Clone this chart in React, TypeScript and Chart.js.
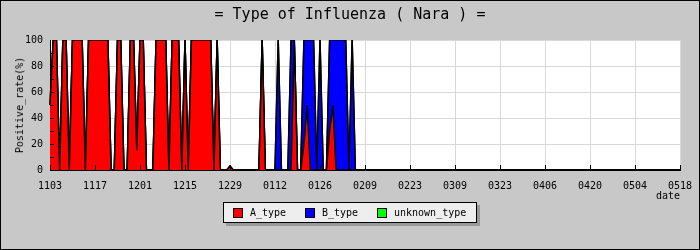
import React, { useEffect, useRef } from 'react';
import { Chart, registerables } from 'chart.js';
Chart.register(...registerables);

const FONT = '"DejaVu Sans Mono", "Liberation Mono", monospace';

const days: string[] = `
1103 1104 1105 1106 1107 1108 1109 1110 1111 1112 1113 1114 1115 1116 1117 1118 1119 1120 1121 1122 1123 1124 1125 1126 1127 1128 1129 1130
1201 1202 1203 1204 1205 1206 1207 1208 1209 1210 1211 1212 1213 1214 1215 1216 1217 1218 1219 1220 1221 1222 1223 1224 1225 1226 1227 1228 1229 1230 1231
0101 0102 0103 0104 0105 0106 0107 0108 0109 0110 0111 0112 0113 0114 0115 0116 0117 0118 0119 0120 0121 0122 0123 0124 0125 0126 0127 0128 0129 0130 0131
0201 0202 0203 0204 0205 0206 0207 0208 0209 0210 0211 0212 0213 0214 0215 0216 0217 0218 0219 0220 0221 0222 0223 0224 0225 0226 0227 0228
0301 0302 0303 0304 0305 0306 0307 0308 0309 0310 0311 0312 0313 0314 0315 0316 0317 0318 0319 0320 0321 0322 0323 0324 0325 0326 0327 0328 0329 0330 0331
0401 0402 0403 0404 0405 0406 0407 0408 0409 0410 0411 0412 0413 0414 0415 0416 0417 0418 0419 0420 0421 0422 0423 0424 0425 0426 0427 0428 0429 0430
0501 0502 0503 0504 0505 0506 0507 0508 0509 0510 0511 0512 0513 0514 0515 0516 0517 0518
`.trim().split(/\s+/);

const tickLabels = ['1103', '1117', '1201', '1215', '1229', '0112', '0126', '0209', '0223', '0309', '0323', '0406', '0420', '0504', '0518'];

const aType = [
  50, 100, 100, 0, 100, 100, 0, 100, 100, 100, 100, 0, 100, 100,
  100, 100, 100, 100, 100, 0, 0, 100, 100, 0, 0, 100, 100, 15,
  100, 100, 0, 0, 0, 100, 100, 100, 100, 0, 100, 100, 100, 0,
  100, 0, 100, 100, 100, 100, 100, 100, 100, 0, 100, 0, 0, 0,
  3, 0, 0, 0, 0, 0, 0, 0, 0, 0, 100, 0, 0, 0,
  0, 0, 0, 0, 0, 0, 100, 0, 0, 20, 50, 0, 0, 0,
  0, 0, 0, 30, 50, 0, 0, 0, 0, 0, 0, 0, 0, 0,
  0, 0, 0, 0, 0, 0, 0, 0, 0, 0, 0, 0, 0, 0,
  0, 0, 0, 0, 0, 0, 0, 0, 0, 0, 0, 0, 0, 0,
  0, 0, 0, 0, 0, 0, 0, 0, 0, 0, 0, 0, 0, 0,
  0, 0, 0, 0, 0, 0, 0, 0, 0, 0, 0, 0, 0, 0,
  0, 0, 0, 0, 0, 0, 0, 0, 0, 0, 0, 0, 0, 0,
  0, 0, 0, 0, 0, 0, 0, 0, 0, 0, 0, 0, 0, 0,
  0, 0, 0, 0, 0, 0, 0, 0, 0, 0, 0, 0, 0, 0,
  0,
];

const bType = [
  0, 0, 0, 0, 0, 0, 0, 0, 0, 0, 0, 0, 0, 0,
  0, 0, 0, 0, 0, 0, 0, 0, 0, 0, 0, 0, 0, 0,
  0, 0, 0, 0, 0, 0, 0, 0, 0, 0, 0, 0, 0, 0,
  0, 0, 0, 0, 0, 0, 0, 0, 0, 0, 0, 0, 0, 0,
  0, 0, 0, 0, 0, 0, 0, 0, 0, 0, 0, 0, 0, 0,
  0, 100, 0, 0, 0, 100, 0, 0, 0, 80, 50, 100, 100, 0,
  100, 0, 0, 70, 50, 100, 100, 100, 100, 0, 100, 0, 0, 0,
  0, 0, 0, 0, 0, 0, 0, 0, 0, 0, 0, 0, 0, 0,
  0, 0, 0, 0, 0, 0, 0, 0, 0, 0, 0, 0, 0, 0,
  0, 0, 0, 0, 0, 0, 0, 0, 0, 0, 0, 0, 0, 0,
  0, 0, 0, 0, 0, 0, 0, 0, 0, 0, 0, 0, 0, 0,
  0, 0, 0, 0, 0, 0, 0, 0, 0, 0, 0, 0, 0, 0,
  0, 0, 0, 0, 0, 0, 0, 0, 0, 0, 0, 0, 0, 0,
  0, 0, 0, 0, 0, 0, 0, 0, 0, 0, 0, 0, 0, 0,
  0,
];

const unknownType = [
  0, 0, 0, 0, 0, 0, 0, 0, 0, 0, 0, 0, 0, 0,
  0, 0, 0, 0, 0, 0, 0, 0, 0, 0, 0, 0, 0, 0,
  0, 0, 0, 0, 0, 0, 0, 0, 0, 0, 0, 0, 0, 0,
  0, 0, 0, 0, 0, 0, 0, 0, 0, 0, 0, 0, 0, 0,
  0, 0, 0, 0, 0, 0, 0, 0, 0, 0, 0, 0, 0, 0,
  0, 0, 0, 0, 0, 0, 0, 0, 0, 0, 0, 0, 0, 0,
  0, 0, 0, 0, 0, 0, 0, 0, 0, 0, 0, 0, 0, 0,
  0, 0, 0, 0, 0, 0, 0, 0, 0, 0, 0, 0, 0, 0,
  0, 0, 0, 0, 0, 0, 0, 0, 0, 0, 0, 0, 0, 0,
  0, 0, 0, 0, 0, 0, 0, 0, 0, 0, 0, 0, 0, 0,
  0, 0, 0, 0, 0, 0, 0, 0, 0, 0, 0, 0, 0, 0,
  0, 0, 0, 0, 0, 0, 0, 0, 0, 0, 0, 0, 0, 0,
  0, 0, 0, 0, 0, 0, 0, 0, 0, 0, 0, 0, 0, 0,
  0, 0, 0, 0, 0, 0, 0, 0, 0, 0, 0, 0, 0, 0,
  0,
];

const seriesNames = ['A_type', 'B_type', 'unknown_type'];
const seriesColors = ['#ff0000', '#0000ff', '#00ff00'];
const seriesValues = [aType, bType, unknownType];

const plotBg = {
  id: 'plotBg',
  beforeDraw(chart: any) {
    const { ctx, chartArea } = chart;
    ctx.save();
    ctx.fillStyle = '#ffffff';
    ctx.fillRect(chartArea.left, chartArea.top, chartArea.right - chartArea.left, chartArea.bottom - chartArea.top);
    ctx.restore();
  },
};

const inwardTicks = {
  id: 'inwardTicks',
  afterDatasetsDraw(chart: any) {
    const { ctx, chartArea, scales } = chart;
    ctx.save();
    ctx.strokeStyle = '#000';
    ctx.lineWidth = 1;
    ctx.beginPath();
    (chart.data.labels as string[]).forEach((l, i) => {
      if (tickLabels.includes(l)) {
        const px = Math.round(scales.x.getPixelForValue(i)) + 0.5;
        ctx.moveTo(px, chartArea.bottom);
        ctx.lineTo(px, chartArea.bottom - 5);
      }
    });
    for (let v = 10; v < 100; v += 10) {
      const py = Math.round(scales.y.getPixelForValue(v)) + 0.5;
      ctx.moveTo(chartArea.left, py);
      ctx.lineTo(chartArea.left + 4, py);
    }
    ctx.stroke();
    ctx.restore();
  },
};

export default function App() {
  const ref = useRef<HTMLCanvasElement | null>(null);

  useEffect(() => {
    if (!ref.current) return;
    Chart.defaults.font.family = FONT;
    Chart.defaults.font.size = 10;
    Chart.defaults.color = '#000';
    const chart = new Chart(ref.current, {
      type: 'line',
      data: {
        labels: days,
        datasets: seriesNames.map((name, k) => ({
          label: name,
          data: seriesValues[k],
          backgroundColor: seriesColors[k],
          borderColor: '#000',
          borderWidth: 1.5,
          pointRadius: 0,
          tension: 0,
          fill: k === 0 ? 'origin' : '-1',
        })),
      },
      options: {
        responsive: false,
        animation: false,
        devicePixelRatio: 1,
        layout: { padding: { top: 40, right: 20, left: 0, bottom: 0 } },
        plugins: { legend: { display: false }, title: { display: false }, tooltip: { enabled: false } },
        scales: {
          x: {
            type: 'category',
            offset: false,
            ticks: {
              autoSkip: false,
              maxRotation: 0,
              minRotation: 0,
              padding: 10,
              font: { family: FONT, size: 10 },
              color: '#000',
              callback: (v: any, i: number) => (tickLabels.includes(days[i]) ? days[i] : null),
            },
            grid: {
              drawTicks: false,
              color: (c: any) => (c.tick && tickLabels.includes(days[c.tick.value]) ? '#d9d9d9' : 'rgba(0,0,0,0)'),
              lineWidth: 1,
            },
            border: { display: true, color: '#000', width: 1 },
            afterFit: (s: any) => {
              s.height = 80;
              s.paddingLeft = 0;
              s.paddingRight = 0;
            },
          },
          y: {
            stacked: true,
            min: 0,
            max: 100,
            ticks: { stepSize: 20, padding: 7, font: { family: FONT, size: 10 }, color: '#000' },
            grid: { drawTicks: false, color: '#d9d9d9', lineWidth: 1 },
            border: { display: true, color: '#000', width: 1 },
            afterFit: (s: any) => {
              s.width = 50;
              s.paddingTop = 0;
              s.paddingBottom = 0;
            },
          },
        },
      },
      plugins: [plotBg, inwardTicks],
    });
    return () => chart.destroy();
  }, []);

  const text: React.CSSProperties = { position: 'absolute', fontFamily: FONT, color: '#000', whiteSpace: 'nowrap' };

  return (
    <div style={{ position: 'relative', width: 700, height: 250, background: '#c8c8c8', overflow: 'hidden' }}>
      <style>{'body{margin:0}'}</style>
      <canvas ref={ref} width={700} height={250} style={{ position: 'absolute', left: 0, top: 0, width: 700, height: 250 }} />
      <div style={{ ...text, left: 0, top: 7, width: 700, textAlign: 'center', fontSize: 15, lineHeight: '15px' }}>
        = Type of Influenza ( Nara ) =
      </div>
      <div style={{ ...text, left: 20, top: 105, fontSize: 10, lineHeight: '12px', transform: 'translate(-50%,-50%) rotate(-90deg)' }}>
        Positive_rate(%)
      </div>
      <div style={{ ...text, left: 680, top: 196, fontSize: 10, lineHeight: '12px', transform: 'translate(-100%,-50%)' }}>date</div>
      <div
        style={{
          position: 'absolute',
          left: 223,
          top: 202,
          width: 254,
          height: 21,
          boxSizing: 'border-box',
          background: '#eeeeee',
          border: '1px solid #000',
          boxShadow: '3px 3px 0 #999999',
        }}
      >
        {seriesNames.map((n, k) => (
          <div key={n} style={{ position: 'absolute', left: [9, 81, 153][k], top: 0, height: 19, display: 'flex', alignItems: 'center' }}>
            <span style={{ display: 'inline-block', width: 10, height: 10, boxSizing: 'border-box', border: '1px solid #000', background: seriesColors[k] }} />
            <span style={{ fontFamily: FONT, fontSize: 10, marginLeft: 7, color: '#000' }}>{n}</span>
          </div>
        ))}
      </div>
      <div style={{ position: 'absolute', left: 0, top: 0, width: 700, height: 250, boxSizing: 'border-box', border: '1px solid #000', pointerEvents: 'none' }} />
    </div>
  );
}
